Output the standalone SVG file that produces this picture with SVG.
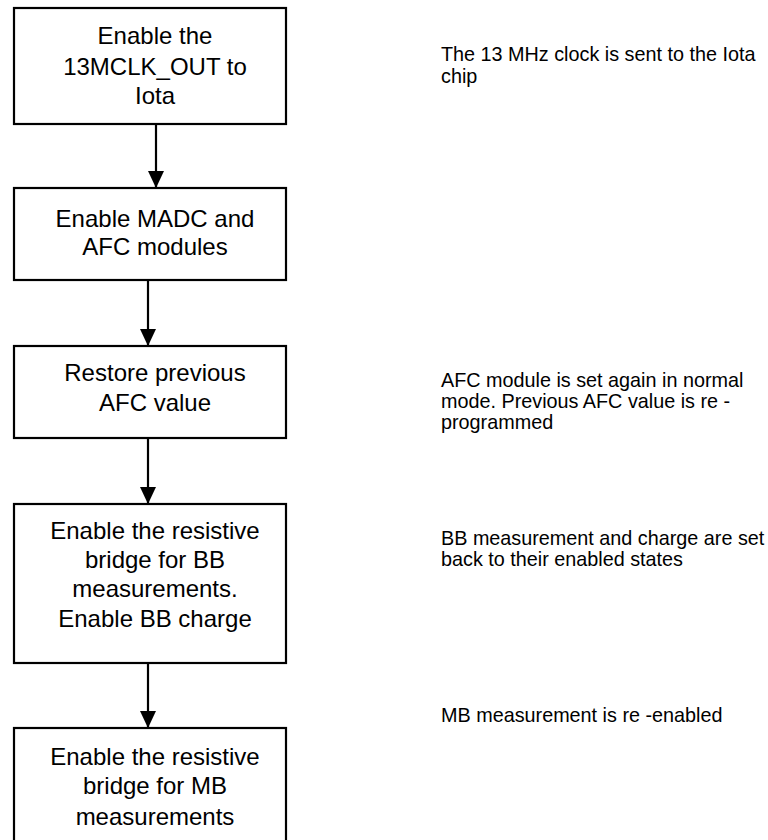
<svg xmlns="http://www.w3.org/2000/svg" width="768" height="840" viewBox="0 0 768 840">
<style>
.box{fill:#fff;stroke:#000;stroke-width:2.2}
.bt{font-family:"Liberation Sans",Arial,sans-serif;font-size:24px;fill:#000;text-anchor:middle}
.nt{font-family:"Liberation Sans",Arial,sans-serif;font-size:19.8px;fill:#000}
.ln{stroke:#000;stroke-width:2.2;fill:none}
</style>
<defs>
<marker id="ah" markerUnits="userSpaceOnUse" markerWidth="18" markerHeight="16" refX="17" refY="8" orient="auto" viewBox="0 0 18 16">
<path d="M0,0 L17,8 L0,16 Z" fill="#000"/>
</marker>
</defs>
<rect width="768" height="840" fill="#fff"/>
<g id="n1"><rect class="box" x="14" y="8" width="272" height="116"/>
<text class="bt" x="155"><tspan x="155" y="44">Enable the</tspan><tspan x="155" y="75">13MCLK_OUT to</tspan><tspan x="155" y="104">Iota</tspan></text></g>
<g id="n2"><rect class="box" x="14" y="188" width="272" height="92"/>
<text class="bt"><tspan x="155" y="227">Enable MADC and</tspan><tspan x="155" y="255">AFC modules</tspan></text></g>
<g id="n3"><rect class="box" x="14" y="346" width="272" height="92"/>
<text class="bt"><tspan x="155" y="381">Restore previous</tspan><tspan x="155" y="411">AFC value</tspan></text></g>
<g id="n4"><rect class="box" x="14" y="504" width="272" height="159"/>
<text class="bt"><tspan x="155" y="539">Enable the resistive</tspan><tspan x="155" y="568">bridge for BB</tspan><tspan x="155" y="597">measurements.</tspan><tspan x="155" y="627">Enable BB charge</tspan></text></g>
<g id="n5"><rect class="box" x="14" y="728" width="272" height="120"/>
<text class="bt"><tspan x="155" y="765">Enable the resistive</tspan><tspan x="155" y="794">bridge for MB</tspan><tspan x="155" y="825">measurements</tspan></text></g>
<g id="notes">
<text class="nt"><tspan x="441" y="61">The 13 MHz clock is sent to the Iota</tspan><tspan x="441" y="83">chip</tspan></text>
<text class="nt"><tspan x="441" y="387">AFC module is set again in normal</tspan><tspan x="441" y="408">mode. Previous AFC value is re -</tspan><tspan x="441" y="429">programmed</tspan></text>
<text class="nt"><tspan x="441" y="545">BB measurement and charge are set</tspan><tspan x="441" y="566">back to their enabled states</tspan></text>
<text class="nt"><tspan x="441" y="722">MB measurement is re -enabled</tspan></text>
</g>
<g id="connectors">
<line class="ln" x1="156" y1="124" x2="156" y2="188" marker-end="url(#ah)"/>
<line class="ln" x1="148" y1="280" x2="148" y2="346" marker-end="url(#ah)"/>
<line class="ln" x1="148" y1="438" x2="148" y2="504" marker-end="url(#ah)"/>
<line class="ln" x1="148" y1="663" x2="148" y2="728" marker-end="url(#ah)"/>
</g>
</svg>
